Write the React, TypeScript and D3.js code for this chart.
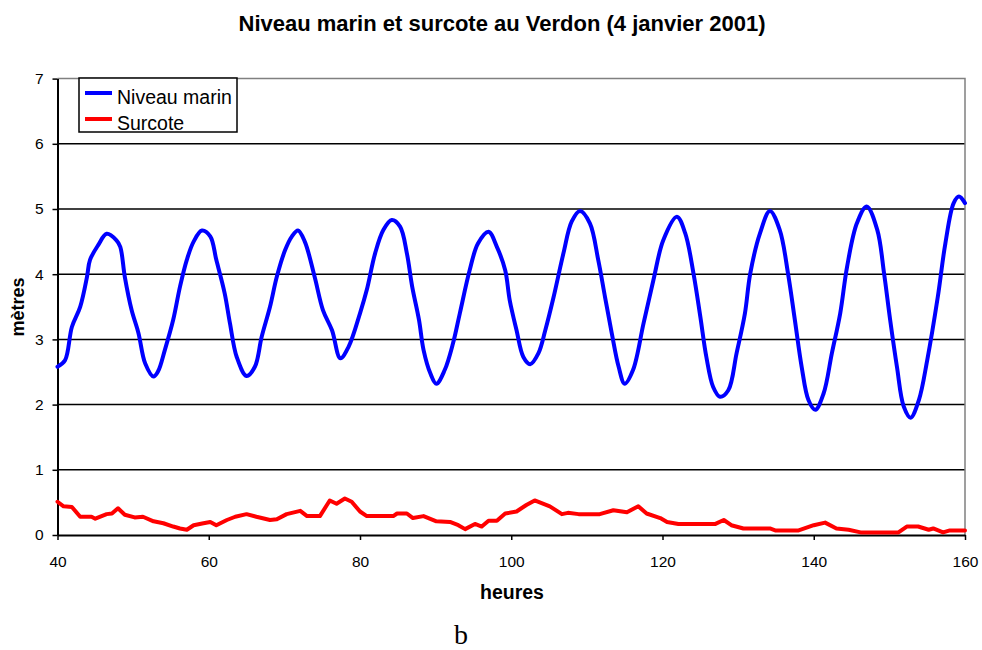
import React, { useEffect, useRef } from 'react';
import * as d3 from 'd3';

const W = 982;
const H = 650;

const title = 'Niveau marin et surcote au Verdon (4 janvier 2001)';
const xTicks = [40, 60, 80, 100, 120, 140, 160];
const yTicks = [0, 1, 2, 3, 4, 5, 6, 7];

// heures / mètres
const niveauH = [40, 41, 41.9, 43, 43.9, 44.3, 45.4, 46.5, 47.8, 48.3, 48.9, 49.8, 50.7, 51.6, 52.7, 53.3, 54.2, 55.3, 56.2, 57.1, 58, 59.1, 60.2, 61, 62.1, 62.8, 63.7, 65, 66.1, 67, 68.1, 69, 70.1, 71, 71.8, 72.7, 74, 75.1, 76.3, 77.4, 78.5, 80, 80.9, 82, 83.1, 84.2, 85.3, 86.2, 86.9, 87.8, 88.4, 89.3, 90.1, 91.2, 92.3, 93.2, 94.5, 95.6, 97, 98.1, 99.2, 99.8, 100.7, 101.6, 102.5, 103.6, 104.5, 105.6, 106.9, 108, 109.1, 110.4, 111.5, 112.4, 113.3, 114.2, 115, 116.1, 117.5, 118.8, 120.1, 121.9, 123, 124.1, 125, 125.8, 126.7, 127.6, 128.7, 129.8, 130.9, 131.6, 132.9, 134.2, 135.5, 136.6, 137.5, 138.4, 139.3, 140.2, 141.3, 142.4, 143.5, 144.4, 145.7, 147, 148.4, 149.3, 150.1, 151, 151.9, 152.8, 153.9, 155, 156.4, 157.4, 158.5, 159.2, 160];
const niveauV = [2.58, 2.68, 3.19, 3.5, 3.96, 4.22, 4.45, 4.62, 4.52, 4.42, 3.96, 3.45, 3.1, 2.63, 2.43, 2.51, 2.84, 3.3, 3.81, 4.22, 4.5, 4.67, 4.58, 4.22, 3.71, 3.25, 2.73, 2.44, 2.58, 3.04, 3.5, 3.96, 4.37, 4.58, 4.67, 4.5, 3.96, 3.45, 3.14, 2.71, 2.89, 3.4, 3.76, 4.32, 4.68, 4.83, 4.73, 4.32, 3.81, 3.3, 2.84, 2.48, 2.32, 2.53, 2.94, 3.4, 4.06, 4.47, 4.65, 4.42, 4.06, 3.6, 3.14, 2.73, 2.62, 2.79, 3.14, 3.65, 4.32, 4.81, 4.97, 4.78, 4.22, 3.65, 3.09, 2.58, 2.32, 2.53, 3.25, 3.91, 4.52, 4.88, 4.63, 4.01, 3.35, 2.73, 2.27, 2.12, 2.22, 2.79, 3.4, 4.01, 4.63, 4.97, 4.68, 4.01, 3.3, 2.58, 2.07, 1.92, 2.17, 2.79, 3.4, 4.11, 4.78, 5.04, 4.68, 4.01, 3.3, 2.58, 1.97, 1.8, 2.07, 2.68, 3.65, 4.47, 5.09, 5.19, 5.09];

const surcoteH = [40, 40.8, 41.9, 43, 44.5, 45, 46.5, 47.2, 48, 48.9, 50.2, 51.3, 52.7, 54, 55.3, 56.2, 57.1, 58, 59.3, 60.2, 61, 62.4, 63.5, 65, 66.3, 68.1, 69, 70.3, 72.1, 73, 74.7, 76, 76.9, 78, 78.9, 80, 80.9, 84.4, 84.9, 86.2, 87, 88.4, 90.1, 91.9, 93, 93.9, 95.2, 96.1, 97, 98.1, 99.2, 100.7, 102, 103.1, 105.1, 106.7, 107.5, 108.9, 111.7, 113.5, 115.3, 116.8, 117.9, 119.7, 120.6, 122.1, 124.1, 127, 128.1, 129.1, 130.7, 134.2, 134.9, 138, 140, 141.5, 143, 144.6, 146.2, 151.2, 152.3, 153.8, 155.2, 155.8, 157.1, 158, 160];
const surcoteV = [0.51, 0.44, 0.43, 0.28, 0.28, 0.25, 0.32, 0.33, 0.41, 0.31, 0.27, 0.28, 0.21, 0.18, 0.13, 0.1, 0.08, 0.15, 0.18, 0.2, 0.15, 0.23, 0.28, 0.32, 0.28, 0.23, 0.24, 0.32, 0.37, 0.29, 0.29, 0.53, 0.48, 0.56, 0.51, 0.36, 0.29, 0.29, 0.33, 0.33, 0.26, 0.29, 0.21, 0.2, 0.15, 0.09, 0.17, 0.13, 0.22, 0.22, 0.33, 0.36, 0.46, 0.53, 0.44, 0.32, 0.34, 0.32, 0.32, 0.38, 0.35, 0.44, 0.33, 0.26, 0.2, 0.17, 0.17, 0.17, 0.23, 0.15, 0.1, 0.1, 0.07, 0.07, 0.15, 0.19, 0.1, 0.08, 0.04, 0.04, 0.13, 0.13, 0.08, 0.1, 0.04, 0.07, 0.07];

const series = [
  { name: 'Niveau marin', color: '#0000ff', hours: niveauH, values: niveauV },
  { name: 'Surcote', color: '#ff0000', hours: surcoteH, values: surcoteV },
];

const font = 'Arial, "Liberation Sans", sans-serif';

export default function App() {
  const svgRef = useRef<SVGSVGElement>(null);

  useEffect(() => {
    if (!svgRef.current) return;
    const svg = d3.select(svgRef.current);
    svg.selectAll('*').remove();

    const x = d3.scaleLinear().domain([40, 160]).range([57.5, 965]);
    const y = d3.scaleLinear().domain([0, 7]).range([535, 78.6]);

    // gridlines
    svg
      .append('g')
      .selectAll('line')
      .data(yTicks.filter(t => t > 0 && t < 7))
      .enter()
      .append('line')
      .attr('x1', x(40))
      .attr('x2', x(160))
      .attr('y1', d => y(d))
      .attr('y2', d => y(d))
      .attr('stroke', '#000')
      .attr('stroke-width', 1.5);

    // frame (top/right grey)
    svg
      .append('path')
      .attr('d', `M${x(40)},${y(7)}H${x(160)}V${y(0)}`)
      .attr('fill', 'none')
      .attr('stroke', '#808080')
      .attr('stroke-width', 1.5);

    const xAxis = svg
      .append('g')
      .attr('transform', `translate(0,${y(0)})`)
      .call(d3.axisBottom(x).tickValues(xTicks).tickSize(5).tickSizeOuter(0).tickFormat(d3.format('d')));
    xAxis.select('.domain').attr('stroke', '#000').attr('stroke-width', 2);
    xAxis.selectAll('line').attr('stroke', '#000').attr('stroke-width', 1.5);
    xAxis
      .selectAll('text')
      .attr('font-family', font)
      .attr('font-size', 15.5)
      .attr('fill', '#000')
      .attr('y', 32)
      .attr('dy', 0);

    const yAxis = svg
      .append('g')
      .attr('transform', `translate(${x(40)},0)`)
      .call(d3.axisLeft(y).tickValues(yTicks).tickSize(5).tickSizeOuter(0).tickFormat(d3.format('d')));
    yAxis.select('.domain').attr('stroke', '#000').attr('stroke-width', 2);
    yAxis.selectAll('line').attr('stroke', '#000').attr('stroke-width', 1.5);
    yAxis
      .selectAll('text')
      .attr('font-family', font)
      .attr('font-size', 15.5)
      .attr('fill', '#000')
      .attr('x', -14);

    // series
    series.forEach(s => {
      const pts: [number, number][] = s.hours.map((h, i) => [h, s.values[i]]);
      const line = d3
        .line<[number, number]>()
        .x(d => x(d[0]))
        .y(d => y(d[1]))
        .curve(s.name === 'Surcote' ? d3.curveLinear : d3.curveCatmullRom.alpha(0.5));
      svg
        .append('path')
        .datum(pts)
        .attr('d', line)
        .attr('fill', 'none')
        .attr('stroke', s.color)
        .attr('stroke-width', 4)
        .attr('stroke-linejoin', 'round')
        .attr('stroke-linecap', 'round');
    });

    // legend
    const lg = svg.append('g').attr('transform', 'translate(79,78)');
    lg.append('rect')
      .attr('width', 158)
      .attr('height', 54)
      .attr('fill', '#fff')
      .attr('stroke', '#000')
      .attr('stroke-width', 1.5);
    series.forEach((s, i) => {
      const cy = 15 + i * 26;
      lg.append('line')
        .attr('x1', 6)
        .attr('x2', 33)
        .attr('y1', cy)
        .attr('y2', cy)
        .attr('stroke', s.color)
        .attr('stroke-width', 4);
      lg.append('text')
        .attr('x', 38)
        .attr('y', cy + 10.5)
        .attr('font-family', font)
        .attr('font-size', 19.5)
        .attr('fill', '#000')
        .text(s.name);
    });

    // titles
    svg
      .append('text')
      .attr('x', 502)
      .attr('y', 31)
      .attr('text-anchor', 'middle')
      .attr('font-family', font)
      .attr('font-weight', 'bold')
      .attr('font-size', 22)
      .text(title);

    svg
      .append('text')
      .attr('x', 512)
      .attr('y', 599)
      .attr('text-anchor', 'middle')
      .attr('font-family', font)
      .attr('font-weight', 'bold')
      .attr('font-size', 19.5)
      .text('heures');

    svg
      .append('text')
      .attr('transform', 'translate(24,307) rotate(-90)')
      .attr('text-anchor', 'middle')
      .attr('font-family', font)
      .attr('font-weight', 'bold')
      .attr('font-size', 18)
      .text('mètres');

    svg
      .append('text')
      .attr('x', 461)
      .attr('y', 644)
      .attr('text-anchor', 'middle')
      .attr('font-family', '"Liberation Serif", "Times New Roman", serif')
      .attr('font-size', 28)
      .text('b');
  }, []);

  return (
    <svg
      ref={svgRef}
      width={W}
      height={H}
      style={{ position: 'absolute', left: 0, top: 0, background: '#fff' }}
    ></svg>
  );
}
